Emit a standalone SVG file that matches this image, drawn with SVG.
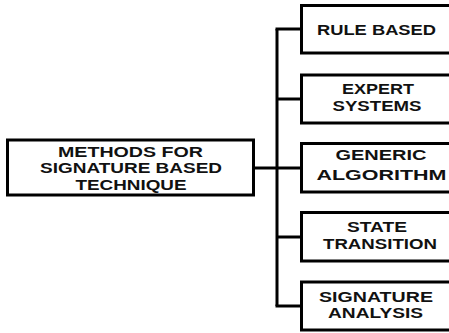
<svg xmlns="http://www.w3.org/2000/svg" width="449" height="333" viewBox="0 0 449 333">
  <style>
    .box { fill: #ffffff; stroke: #000000; stroke-width: 3; }
    .wire { fill: none; stroke: #000000; stroke-width: 3; stroke-linejoin: miter; }
    text { font-family: "Liberation Sans", Arial, sans-serif; font-weight: 700; font-size: 14px; fill: #111111; text-anchor: middle; }
  </style>
  <rect width="449" height="333" fill="#ffffff"/>

  <!-- connectors: root to trunk, trunk to each branch -->
  <g id="connectors">
    <line class="wire" x1="254" y1="168" x2="277" y2="168"/>
    <line class="wire" x1="277" y1="29" x2="277" y2="306"/>
    <line class="wire" x1="275.5" y1="29" x2="301" y2="29"/>
    <line class="wire" x1="277" y1="99" x2="301" y2="99"/>
    <line class="wire" x1="277" y1="168" x2="301" y2="168"/>
    <line class="wire" x1="277" y1="237" x2="301" y2="237"/>
    <line class="wire" x1="275.5" y1="306" x2="301" y2="306"/>
  </g>

  <g id="root">
    <rect class="box" x="7.5" y="140" width="246" height="55"/>
    <text x="130.5" y="156.5" textLength="145" lengthAdjust="spacingAndGlyphs">METHODS FOR</text>
    <text x="131" y="173" textLength="182" lengthAdjust="spacingAndGlyphs">SIGNATURE BASED</text>
    <text x="131" y="189.5" textLength="111" lengthAdjust="spacingAndGlyphs">TECHNIQUE</text>
  </g>

  <g id="rule-based">
    <rect class="box" x="301.5" y="5.5" width="152" height="47.5"/>
    <text x="376.5" y="35" textLength="119" lengthAdjust="spacingAndGlyphs">RULE BASED</text>
  </g>

  <g id="expert-systems">
    <rect class="box" x="301.5" y="75" width="152" height="48"/>
    <text x="378" y="94" textLength="72" lengthAdjust="spacingAndGlyphs">EXPERT</text>
    <text x="377" y="110.5" textLength="89" lengthAdjust="spacingAndGlyphs">SYSTEMS</text>
  </g>

  <g id="generic-algorithm">
    <rect class="box" x="301.5" y="143.5" width="152" height="48.5"/>
    <text x="381" y="160" textLength="91" lengthAdjust="spacingAndGlyphs">GENERIC</text>
    <text x="381.5" y="180" textLength="130" lengthAdjust="spacingAndGlyphs">ALGORITHM</text>
  </g>

  <g id="state-transition">
    <rect class="box" x="301.5" y="212.5" width="152" height="48.5"/>
    <text x="377" y="231.5" textLength="60" lengthAdjust="spacingAndGlyphs">STATE</text>
    <text x="380" y="249" textLength="114" lengthAdjust="spacingAndGlyphs">TRANSITION</text>
  </g>

  <g id="signature-analysis">
    <rect class="box" x="301.5" y="282" width="152" height="48"/>
    <text x="376" y="301.5" textLength="114" lengthAdjust="spacingAndGlyphs">SIGNATURE</text>
    <text x="375.5" y="318" textLength="95" lengthAdjust="spacingAndGlyphs">ANALYSIS</text>
  </g>
</svg>
